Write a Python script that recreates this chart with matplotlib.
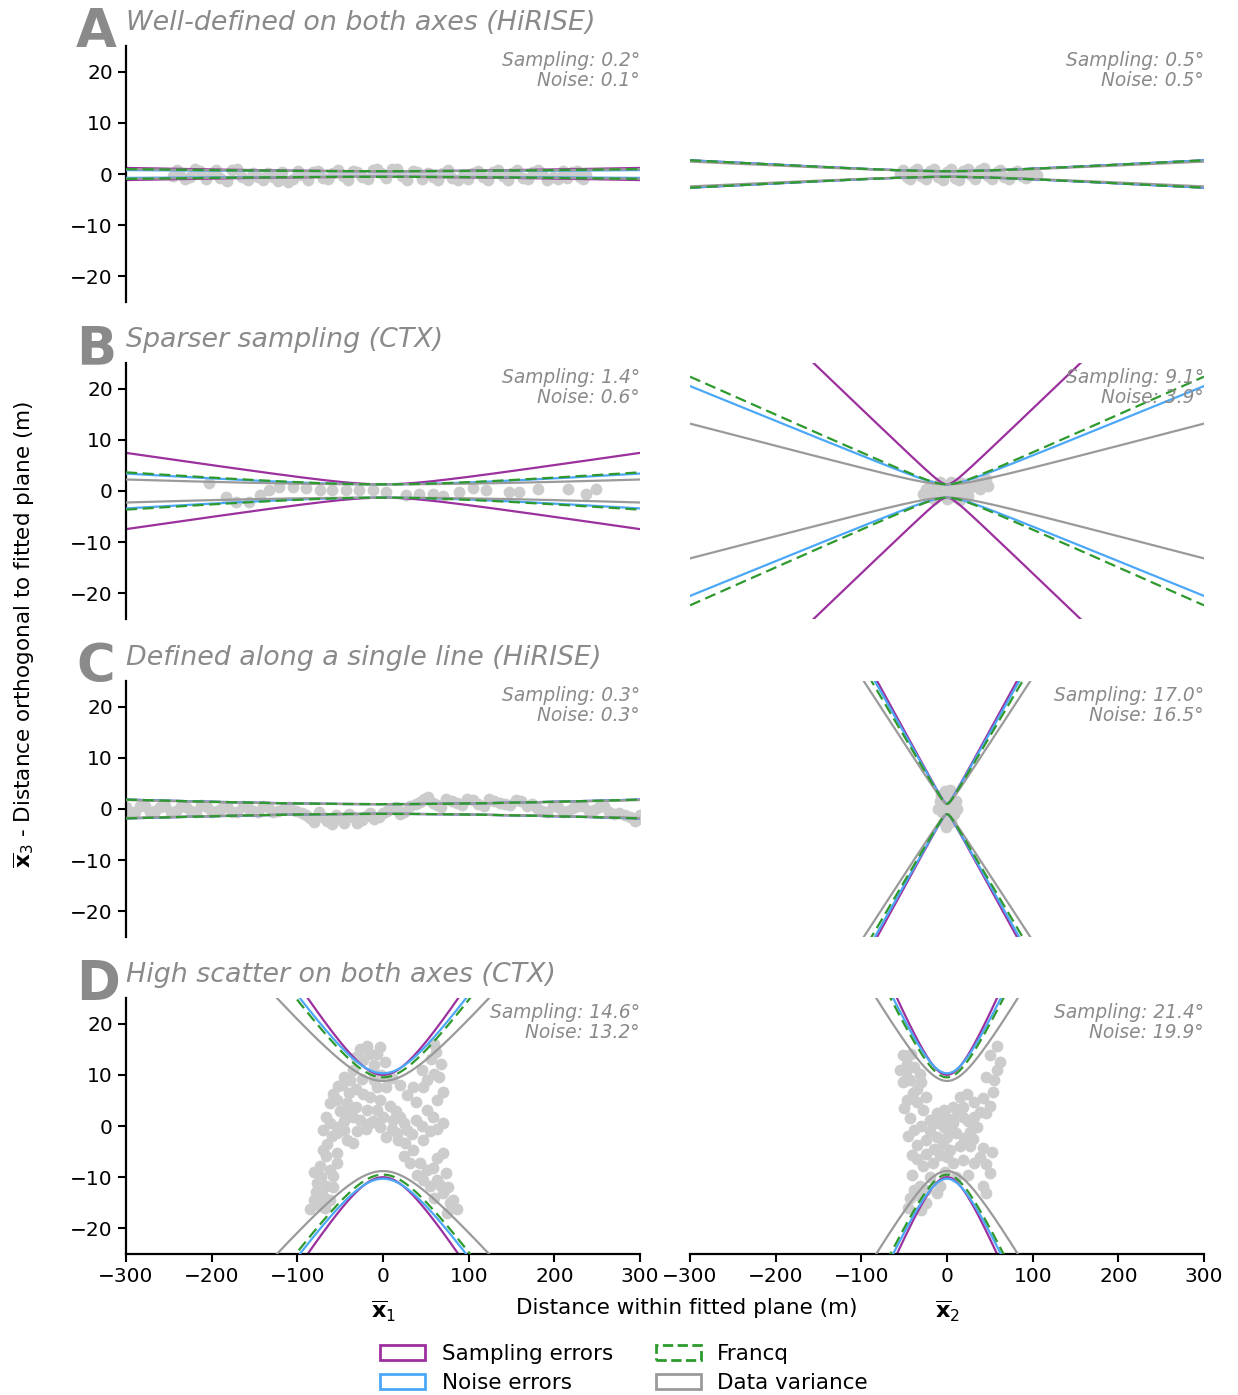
import numpy as np
import matplotlib.pyplot as plt
from matplotlib.patches import Patch

plt.rcParams['font.family'] = ['DejaVu Sans']

W, H = 1238, 1395

# Row definitions: (letter, title)
ROWS = [
    ('A', 'Well-defined on both axes (HiRISE)'),
    ('B', 'Sparser sampling (CTX)'),
    ('C', 'Defined along a single line (HiRISE)'),
    ('D', 'High scatter on both axes (CTX)'),
]

# Reported angular errors (deg) for each panel: [row][column] -> (sampling, noise)
SAMPLING_DEG = [[0.2, 0.5], [1.4, 9.1], [0.3, 17.0], [14.6, 21.4]]
NOISE_DEG = [[0.1, 0.5], [0.6, 3.9], [0.3, 16.5], [13.2, 19.9]]
FRANCQ_DEG = [[0.15, 0.5], [0.65, 4.25], [0.3, 15.8], [12.8, 19.3]]
VARIANCE_DEG = [[0.15, 0.45], [0.35, 2.5], [0.28, 14.4], [10.7, 15.8]]

# Half-width of the error envelope at the centroid (m): sampling, noise, francq, variance
CENTER_WIDTH = [
    [(0.55, 0.55, 0.55, 0.55), (0.55, 0.55, 0.55, 0.55)],
    [(1.3, 1.3, 1.3, 1.3), (1.3, 1.3, 1.3, 1.3)],
    [(0.95, 0.95, 0.95, 0.95), (1.0, 1.0, 1.0, 1.0)],
    [(10.0, 10.3, 9.5, 8.8), (10.0, 10.3, 9.5, 8.8)],
]

# Projected data points (m)
A1_PTS = [(-245, -0.3), (-238, 0.4), (-225, -0.6), (-214, 0.5), (-200, 0.2), (-190, -0.8),
          (-176, 0.7), (-165, -0.5), (-152, 0.1), (-140, -1.2), (-128, -0.6), (-118, 0.3),
          (-105, -1.0), (-94, -0.2), (-82, 0.4), (-70, -0.7), (-58, 0.1), (-47, -0.4),
          (-35, 0.6), (-24, -0.5), (-12, 0.8), (-2, 0.2), (10, 0.9), (22, -0.3), (35, 0.6),
          (46, -0.9), (58, -0.5), (70, 0.2), (81, -0.8), (93, -0.3), (105, 0.1), (117, -0.6),
          (128, 0.3), (140, -0.4), (151, 0.2), (163, -0.7), (175, 0.4), (186, 0.1),
          (198, -0.5), (210, 0.6), (221, 0.3), (230, -0.6), (237, -0.2),
          (-241, 0.7), (-231, -0.9), (-219, 0.9), (-207, -1.0), (-195, 0.8), (-182, -1.3),
          (-170, 0.9), (-158, -1.2), (-146, -0.6), (-134, 0.2), (-122, -1.3), (-111, -1.5),
          (-99, 0.5), (-88, -1.1), (-76, 0.6), (-64, -1.0), (-52, 0.8), (-41, -1.1),
          (-30, 0.4), (-18, -1.0), (-7, 0.9), (4, -0.8), (16, 1.0), (28, -1.1), (40, 0.3),
          (52, 0.2), (64, -1.1), (76, 0.8), (87, -1.2), (99, -0.9), (111, 0.6), (122, -1.1),
          (134, 0.7), (146, -1.2), (157, 0.7), (169, -1.0), (181, 0.8), (192, -1.1),
          (204, -0.9), (215, -0.8), (226, 0.5), (233, -1.0)]
A2_PTS = [(-55, 0.2), (-47, -0.6), (-39, 0.5), (-30, -0.3), (-20, 0.6), (-10, -0.5),
          (0, 0.3), (9, -0.7), (19, 0.5), (28, -0.2), (38, 0.7), (48, -0.4), (58, 0.4),
          (67, -0.6), (77, 0.2), (87, -0.3), (97, 0.1), (105, -0.2),
          (-51, 0.8), (-43, -1.0), (-35, 0.9), (-25, -0.9), (-15, 1.0), (-5, -1.1), (5, 0.9),
          (14, -1.2), (24, 1.0), (33, -0.9), (43, 1.1), (53, -0.9), (62, 0.8), (72, -1.0),
          (82, 0.5), (92, -0.8), (100, 0.3)]
B1_PTS = [(-203, 1.5), (-183, -1.1), (-172, -2.1), (-156, -2.1), (-144, -0.8), (-133, 0.2),
          (-121, 0.8), (-105, 0.8), (-90, 0.5), (-74, 0.2), (-59, 0.2), (-43, 0.2),
          (-28, 0.2), (-12, 0.2), (4, -0.1), (27, -0.8), (42, -0.6), (58, -0.6), (70, -0.9),
          (89, -0.1), (105, 0.5), (120, 0.2), (147, -0.1), (159, -0.1), (181, 0.4),
          (216, 0.4), (237, -0.5), (249, 0.4)]
B2_PTS = [(-25, 0.3), (-18, -0.8), (-12, 0.9), (-5, -0.5), (2, 0.6), (8, -1.2), (14, 0.2),
          (20, -0.3), (28, 0.8), (35, 1.5), (42, 1.8), (48, 0.9), (-20, 1.2), (0, -1.5),
          (10, 1.4), (-28, -0.6), (-15, -1.5), (5, 1.8), (18, 1.6), (25, -1.0), (38, 0.3),
          (45, 2.3), (-8, 1.8), (15, -1.8)]
C1_PTS = [(-300, 0.3), (-290, -0.5), (-278, 0.5), (-266, -0.4), (-254, 0.6), (-242, -0.3),
          (-230, 0.4), (-218, -0.6), (-206, 0.3), (-194, -0.4), (-182, 0.6), (-170, -0.5),
          (-158, 0.2), (-146, -0.6), (-134, 0.4), (-122, -0.3), (-110, 0.3), (-95, -0.8),
          (-85, -1.8), (-75, -0.6), (-65, -2.4), (-55, -1.2), (-45, -2.8), (-35, -1.6),
          (-25, -2.2), (-15, -0.8), (-5, -1.5), (5, -0.4), (15, 0.3), (25, -0.5), (38, 1.0),
          (48, 2.0), (58, 1.2), (68, 0.4), (80, 1.6), (92, 0.8), (105, 1.8), (118, 0.6),
          (130, 1.5), (142, 0.9), (155, 1.7), (168, 0.5), (180, 0.2), (192, -0.5),
          (204, 0.4), (216, -0.3), (228, 0.5), (240, -0.4), (252, 0.3), (264, -0.6),
          (276, -0.8), (288, -1.5), (298, -2.0),
          (-295, -0.6), (-284, 0.6), (-272, -0.5), (-260, 0.3), (-248, -0.6), (-236, 0.5),
          (-224, -0.3), (-212, 0.7), (-200, -0.5), (-188, 0.2), (-176, -0.6), (-164, 0.5),
          (-152, -0.4), (-140, 0.5), (-128, -0.5), (-116, 0.2), (-102, -0.3), (-90, -1.2),
          (-80, -2.6), (-70, -1.5), (-60, -3.0), (-50, -2.0), (-40, -1.0), (-30, -2.8),
          (-20, -1.4), (-10, -2.0), (0, -0.8), (10, 0.2), (20, -0.9), (32, 0.5), (43, 1.4),
          (53, 2.4), (63, 0.8), (74, 1.9), (86, 1.2), (98, 2.0), (111, 1.0), (124, 2.0),
          (136, 1.2), (148, 0.8), (161, 1.6), (174, 0.9), (186, -0.3), (198, 0.6),
          (210, -0.6), (222, 0.2), (234, 0.6), (246, -0.2), (258, 0.5), (270, -1.0),
          (282, -1.2), (294, -2.3), (300, -1.2)]
C2_PTS = [(-8, 1.5), (-6, -0.5), (-3, -2.5), (0, 0.5), (3, 2.2), (6, 1.0), (8, -1.0),
          (2, -1.8), (-4, 0.8), (10, 1.5), (-10, 0.0), (-2, 3.5), (5, -2.5), (12, 0.0),
          (-1, -3.5), (4, 3.8), (-7, 2.8)]
D1_PTS = [(-19, 15.7), (-27, 15.1), (-15, 14.1), (-7, 14.1), (2, 12.5), (-31, 13.5),
          (-23, 12.8), (59, 16.1), (68, 12.2), (59, 10.2), (51, 8.9), (-46, 9.6), (-38, 8.9),
          (-48, 8.0), (-31, 7.3), (-23, 6.3), (-15, 5.7), (-4, 5.0), (4, 7.6), (-7, 7.6),
          (-58, 6.3), (-54, 5.0), (-42, 4.4), (-31, 3.7), (-19, 3.1), (-7, 3.1), (0, 1.8),
          (12, 1.2), (24, 0.5), (28, 6.0), (39, 4.7), (47, 7.6), (63, 5.0), (70, 6.7),
          (51, 3.1), (39, 1.2), (28, -0.8), (16, -1.4), (4, -2.1), (-4, -0.1), (-15, 0.5),
          (-27, 1.2), (-35, 1.8), (-66, 1.8), (-62, 0.5), (-54, -0.1), (-70, -0.8),
          (-54, -1.4), (-42, -2.7), (-35, -3.4), (70, 0.5), (63, -0.5), (47, -2.7),
          (35, -4.7), (24, -5.9), (32, -7.2), (43, -7.2), (51, -8.5), (70, -5.3), (63, -6.3),
          (74, -9.2), (63, -10.5), (55, -11.8), (70, -13.1), (82, -14.4), (86, -16.3),
          (78, -15.0), (-70, -4.7), (-66, -5.9), (-54, -5.3), (-74, -7.9), (-62, -8.5),
          (-54, -7.2), (-77, -11.1), (-66, -11.8), (-81, -14.4), (-70, -13.7), (-85, -16.3),
          (-74, -15.7), (-62, -14.4), (-58, -9.8),
          (-12, 10.5), (-35, 11.0), (-40, 6.5), (-50, 3.0), (-45, 1.0), (-60, -2.0),
          (-65, -3.5), (-58, -12.0), (-72, -10.0), (-78, -12.8), (-68, -16.0), (-80, -9.0),
          (-25, 9.2), (-10, 9.0), (8, 4.0), (15, 3.0), (20, 1.8), (-12, 1.0), (-20, -0.5),
          (-30, -1.0), (10, -0.5), (18, -2.8), (26, -3.3), (34, -1.5), (45, 0.0), (55, -1.0),
          (58, 1.8), (40, -9.5), (47, -10.5), (58, -8.2), (66, -11.5), (76, -12.0),
          (60, -14.0), (75, -17.0), (-45, -0.8), (-40, 3.0), (-52, 7.8), (-62, 4.5),
          (65, 9.5), (56, 13.0), (62, 14.5), (46, 11.0), (-2, 10.0), (10, 9.3), (35, 7.6),
          (20, 8.0), (-3, 15.5), (-10, 12.0)]
D2_PTS = [(58, 15.7), (62, 12.5), (50, 13.8), (-51, 13.8), (-47, 12.2), (-39, 11.5),
          (-43, 8.9), (-51, 8.6), (-32, 10.2), (-35, 7.3), (-47, 5.0), (-35, 4.7), (-24, 5.7),
          (-28, 3.1), (-43, 1.5), (-39, -0.8), (-20, 1.2), (-12, 2.5), (-4, 3.1), (7, 3.7),
          (15, 5.7), (23, 6.3), (19, 3.7), (31, 4.7), (42, 5.4), (54, 6.7), (46, 2.5),
          (31, 1.8), (19, 1.8), (7, 0.5), (-4, -0.1), (-12, -2.1), (-24, -2.7), (-35, -3.7),
          (0, -2.1), (11, -1.4), (27, -1.1), (35, -0.1), (42, -4.3), (27, -4.0), (15, -4.0),
          (4, -4.7), (-8, -5.6), (-16, -7.2), (-28, -7.9), (-41, -5.6), (-41, -9.5),
          (19, -6.6), (31, -7.2), (50, -9.2), (7, -7.2), (-32, -11.8), (-8, -11.8),
          (-12, -13.1), (-43, -14.1), (-32, -13.7), (-24, -15.0), (42, -11.8), (46, -13.1),
          (-48, 10.5), (-42, 14.0), (-55, 11.0), (-30, 8.5), (-40, 6.5), (-50, 3.5),
          (-45, -2.0), (-30, 0.0), (-20, -1.0), (-10, 0.5), (0, 1.5), (5, -1.0), (12, 2.0),
          (24, 1.0), (38, 2.8), (50, 4.0), (55, 9.0), (45, 9.5), (58, 11.0), (30, -2.5),
          (20, -2.3), (-5, -3.5), (-15, -4.5), (-25, -5.5), (-35, -6.5), (-20, -10.0),
          (-25, -12.5), (-38, -12.5), (-45, -16.0), (-30, -16.5), (10, -10.0), (25, -9.5),
          (38, -6.0), (52, -5.0), (46, -7.5), (0, -6.0), (-2, -9.0)]

POINTS = [[A1_PTS, A2_PTS], [B1_PTS, B2_PTS], [C1_PTS, C2_PTS], [D1_PTS, D2_PTS]]

COLORS = {
    'sampling': '#9b309e',
    'noise': '#4ca8f7',
    'francq': '#2e9a2e',
    'variance': '#9a9a9a',
    'points': '#cccccc',
    'text': '#8a8a8a',
}

XLIM = (-300, 300)
YLIM = (-25, 25)


def px_to_fig(x, y):
    return x / W, 1 - y / H


def envelope(ax, x, c, angle, **kw):
    half = np.sqrt(c ** 2 + (x * np.tan(np.radians(angle))) ** 2)
    ax.plot(x, half, **kw)
    ax.plot(x, -half, **kw)


fig = plt.figure(figsize=(W / 100, H / 100), dpi=100)

col_left = [126, 690]
col_width = 514
row_top = [46, 363, 681, 998]
row_height = 256

x = np.linspace(XLIM[0], XLIM[1], 1201)

for r, (letter, title) in enumerate(ROWS):
    for c in range(2):
        left, bottom = px_to_fig(col_left[c], row_top[r] + row_height)
        ax = fig.add_axes([left, bottom, col_width / W, row_height / H])
        ax.set_xlim(*XLIM)
        ax.set_ylim(*YLIM)

        pts = np.array(POINTS[r][c], dtype=float)
        ax.scatter(pts[:, 0], pts[:, 1], s=72, color=COLORS['points'],
                   linewidths=0, zorder=1)

        cs, cn, cf, cv = CENTER_WIDTH[r][c]
        envelope(ax, x, cs, SAMPLING_DEG[r][c], color=COLORS['sampling'], lw=1.6, zorder=2)
        envelope(ax, x, cn, NOISE_DEG[r][c], color=COLORS['noise'], lw=1.6, zorder=3)
        envelope(ax, x, cv, VARIANCE_DEG[r][c], color=COLORS['variance'], lw=1.6, zorder=4)
        envelope(ax, x, cf, FRANCQ_DEG[r][c], color=COLORS['francq'], lw=1.6,
                 ls=(0, (5, 2.5)), zorder=5)

        ax.text(1.0, 0.98,
                f'Sampling: {SAMPLING_DEG[r][c]:.1f}°\nNoise: {NOISE_DEG[r][c]:.1f}°',
                transform=ax.transAxes, ha='right', va='top', fontsize=13.4,
                style='italic', color=COLORS['text'], linespacing=1.05, zorder=6)

        for s in ['top', 'right']:
            ax.spines[s].set_visible(False)
        ax.spines['left'].set_visible(c == 0)
        ax.spines['bottom'].set_visible(r == 3)
        for s in ['left', 'bottom']:
            ax.spines[s].set_linewidth(1.6)

        ax.tick_params(length=6, width=1.5, labelsize=14.5)
        ax.set_yticks([-20, -10, 0, 10, 20])
        ax.set_xticks(range(-300, 301, 100))
        if c == 1:
            ax.tick_params(axis='y', left=False, labelleft=False)
        if r < 3:
            ax.tick_params(axis='x', bottom=False, labelbottom=False)
        else:
            ax.text(0.5, -0.225, r'$\overline{\mathbf{x}}_{%d}$' % (c + 1),
                    transform=ax.transAxes, ha='center', va='center', fontsize=16)

    # Panel letter and title
    fx, fy = px_to_fig(76, row_top[r] + 1)
    fig.text(fx, fy, letter, fontsize=38, fontweight='bold', color=COLORS['text'],
             ha='left', va='baseline')
    fx, fy = px_to_fig(126, row_top[r] - 16)
    fig.text(fx, fy, title, fontsize=19.4, style='italic', color=COLORS['text'],
             ha='left', va='baseline')

fx, fy = px_to_fig(24, 634)
fig.text(fx, fy, r'$\overline{\mathbf{x}}_3$ - Distance orthogonal to fitted plane (m)',
         rotation=90, ha='center', va='center', fontsize=15.5)
fx, fy = px_to_fig(687, 1308)
fig.text(fx, fy, 'Distance within fitted plane (m)', ha='center', va='center', fontsize=15.5)

handles = [
    Patch(facecolor='none', edgecolor=COLORS['sampling'], linewidth=2, label='Sampling errors'),
    Patch(facecolor='none', edgecolor=COLORS['noise'], linewidth=2, label='Noise errors'),
    Patch(facecolor='none', edgecolor=COLORS['francq'], linewidth=2, linestyle='--', label='Francq'),
    Patch(facecolor='none', edgecolor=COLORS['variance'], linewidth=2, label='Data variance'),
]
fx, fy = px_to_fig(624, 1329)
fig.legend(handles=handles, loc='upper center', bbox_to_anchor=(fx, fy), ncol=2,
           frameon=False, fontsize=15.5, handlelength=2.1, handleheight=0.75,
           columnspacing=2.0, labelspacing=0.42, handletextpad=0.75, borderpad=0.2)

fig.savefig('out.png', dpi=100)
